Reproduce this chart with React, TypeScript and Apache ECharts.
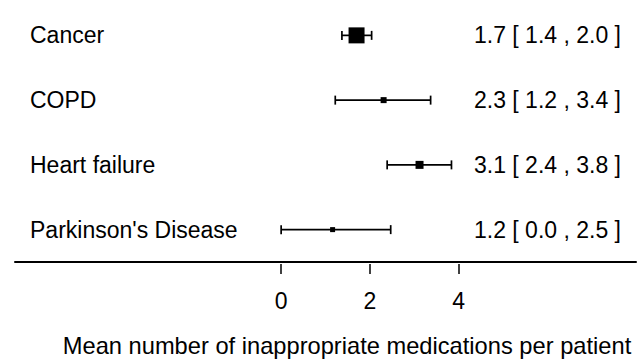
import React, { useEffect, useRef } from "react";
import * as echarts from "echarts";

const categories = ["Cancer", "COPD", "Heart failure", "Parkinson's Disease"];
const means = [1.7, 2.31, 3.12, 1.16];
const lows = [1.37, 1.22, 2.39, 0.0];
const highs = [2.04, 3.37, 3.84, 2.47];
const weights = [3.2, 1.2, 1.6, 1.0];
const xTicks = [0, 2, 4];
const axisTitle = "Mean number of inappropriate medications per patient";

const FONT = '"Liberation Sans", Arial, sans-serif';
const FS = 23;

export default function App() {
  const ref = useRef<HTMLDivElement>(null);
  useEffect(() => {
    if (!ref.current) return;
    const chart = echarts.init(ref.current, null, { renderer: "svg" });
    const ciLabels = categories.map(
      (_, i) => `${means[i].toFixed(1)} [ ${lows[i].toFixed(1)} , ${highs[i].toFixed(1)} ]`
    );
    const option: any = {
      animation: false,
      backgroundColor: "#fff",
      grid: { left: 15, right: 2, top: 3, bottom: 98, containLabel: false },
      xAxis: [
        {
          type: "value",
          min: -6,
          max: 8,
          axisLine: { show: true, lineStyle: { color: "#000", width: 2 } },
          axisTick: { show: false },
          axisLabel: { show: false },
          splitLine: { show: false },
        },
        {
          type: "value",
          min: -6,
          max: 8,
          position: "bottom",
          offset: 2,
          axisLine: { show: false },
          axisTick: {
            show: true,
            customValues: xTicks,
            length: 10,
            lineStyle: { color: "#000", width: 1.5 },
          },
          axisLabel: {
            show: true,
            customValues: xTicks,
            margin: 25,
            color: "#000",
            fontFamily: FONT,
            fontSize: FS,
          },
          splitLine: { show: false },
        },
      ],
      yAxis: [
        {
          type: "category",
          data: categories,
          inverse: true,
          position: "left",
          axisLine: { show: false },
          axisTick: { show: false },
          splitLine: { show: false },
          axisLabel: {
            inside: true,
            align: "left",
            margin: 15,
            color: "#000",
            fontFamily: FONT,
            fontSize: FS,
          },
        },
        {
          type: "category",
          data: categories,
          inverse: true,
          position: "right",
          axisLine: { show: false },
          axisTick: { show: false },
          splitLine: { show: false },
          axisLabel: {
            inside: true,
            align: "right",
            margin: 15,
            color: "#000",
            fontFamily: FONT,
            fontSize: FS,
            formatter: (_v: string, idx: number) => ciLabels[idx],
          },
        },
      ],
      graphic: [
        {
          type: "text",
          x: 347,
          y: 346,
          scaleX: 1.03,
          style: {
            text: axisTitle,
            fontFamily: FONT,
            fontSize: FS,
            fill: "#000",
            align: "center",
            verticalAlign: "middle",
          },
        },
      ],
      series: [
        {
          type: "custom",
          xAxisIndex: 0,
          yAxisIndex: 0,
          data: categories.map((_, i) => [means[i], lows[i], highs[i], i, weights[i]]),
          encode: { x: [0, 1, 2], y: 3 },
          renderItem: (params: any, api: any) => {
            const yi = api.value(3);
            const pm = api.coord([api.value(0), yi]);
            const pl = api.coord([api.value(1), yi]);
            const ph = api.coord([api.value(2), yi]);
            const s = api.value(4) * 5;
            const cap = 4.5;
            const ls = { stroke: "#000", lineWidth: 1.7 };
            return {
              type: "group",
              children: [
                { type: "line", shape: { x1: pl[0], y1: pl[1], x2: ph[0], y2: ph[1] }, style: ls },
                { type: "line", shape: { x1: pl[0], y1: pl[1] - cap, x2: pl[0], y2: pl[1] + cap }, style: ls },
                { type: "line", shape: { x1: ph[0], y1: ph[1] - cap, x2: ph[0], y2: ph[1] + cap }, style: ls },
                {
                  type: "rect",
                  shape: { x: pm[0] - s / 2, y: pm[1] - s / 2, width: s, height: s },
                  style: { fill: "#000" },
                },
              ],
            };
          },
        },
      ],
    };
    chart.setOption(option);
    return () => chart.dispose();
  }, []);
  return (
    <div
      ref={ref}
      style={{ position: "fixed", left: 0, top: 0, width: 638, height: 360 }}
    />
  );
}
